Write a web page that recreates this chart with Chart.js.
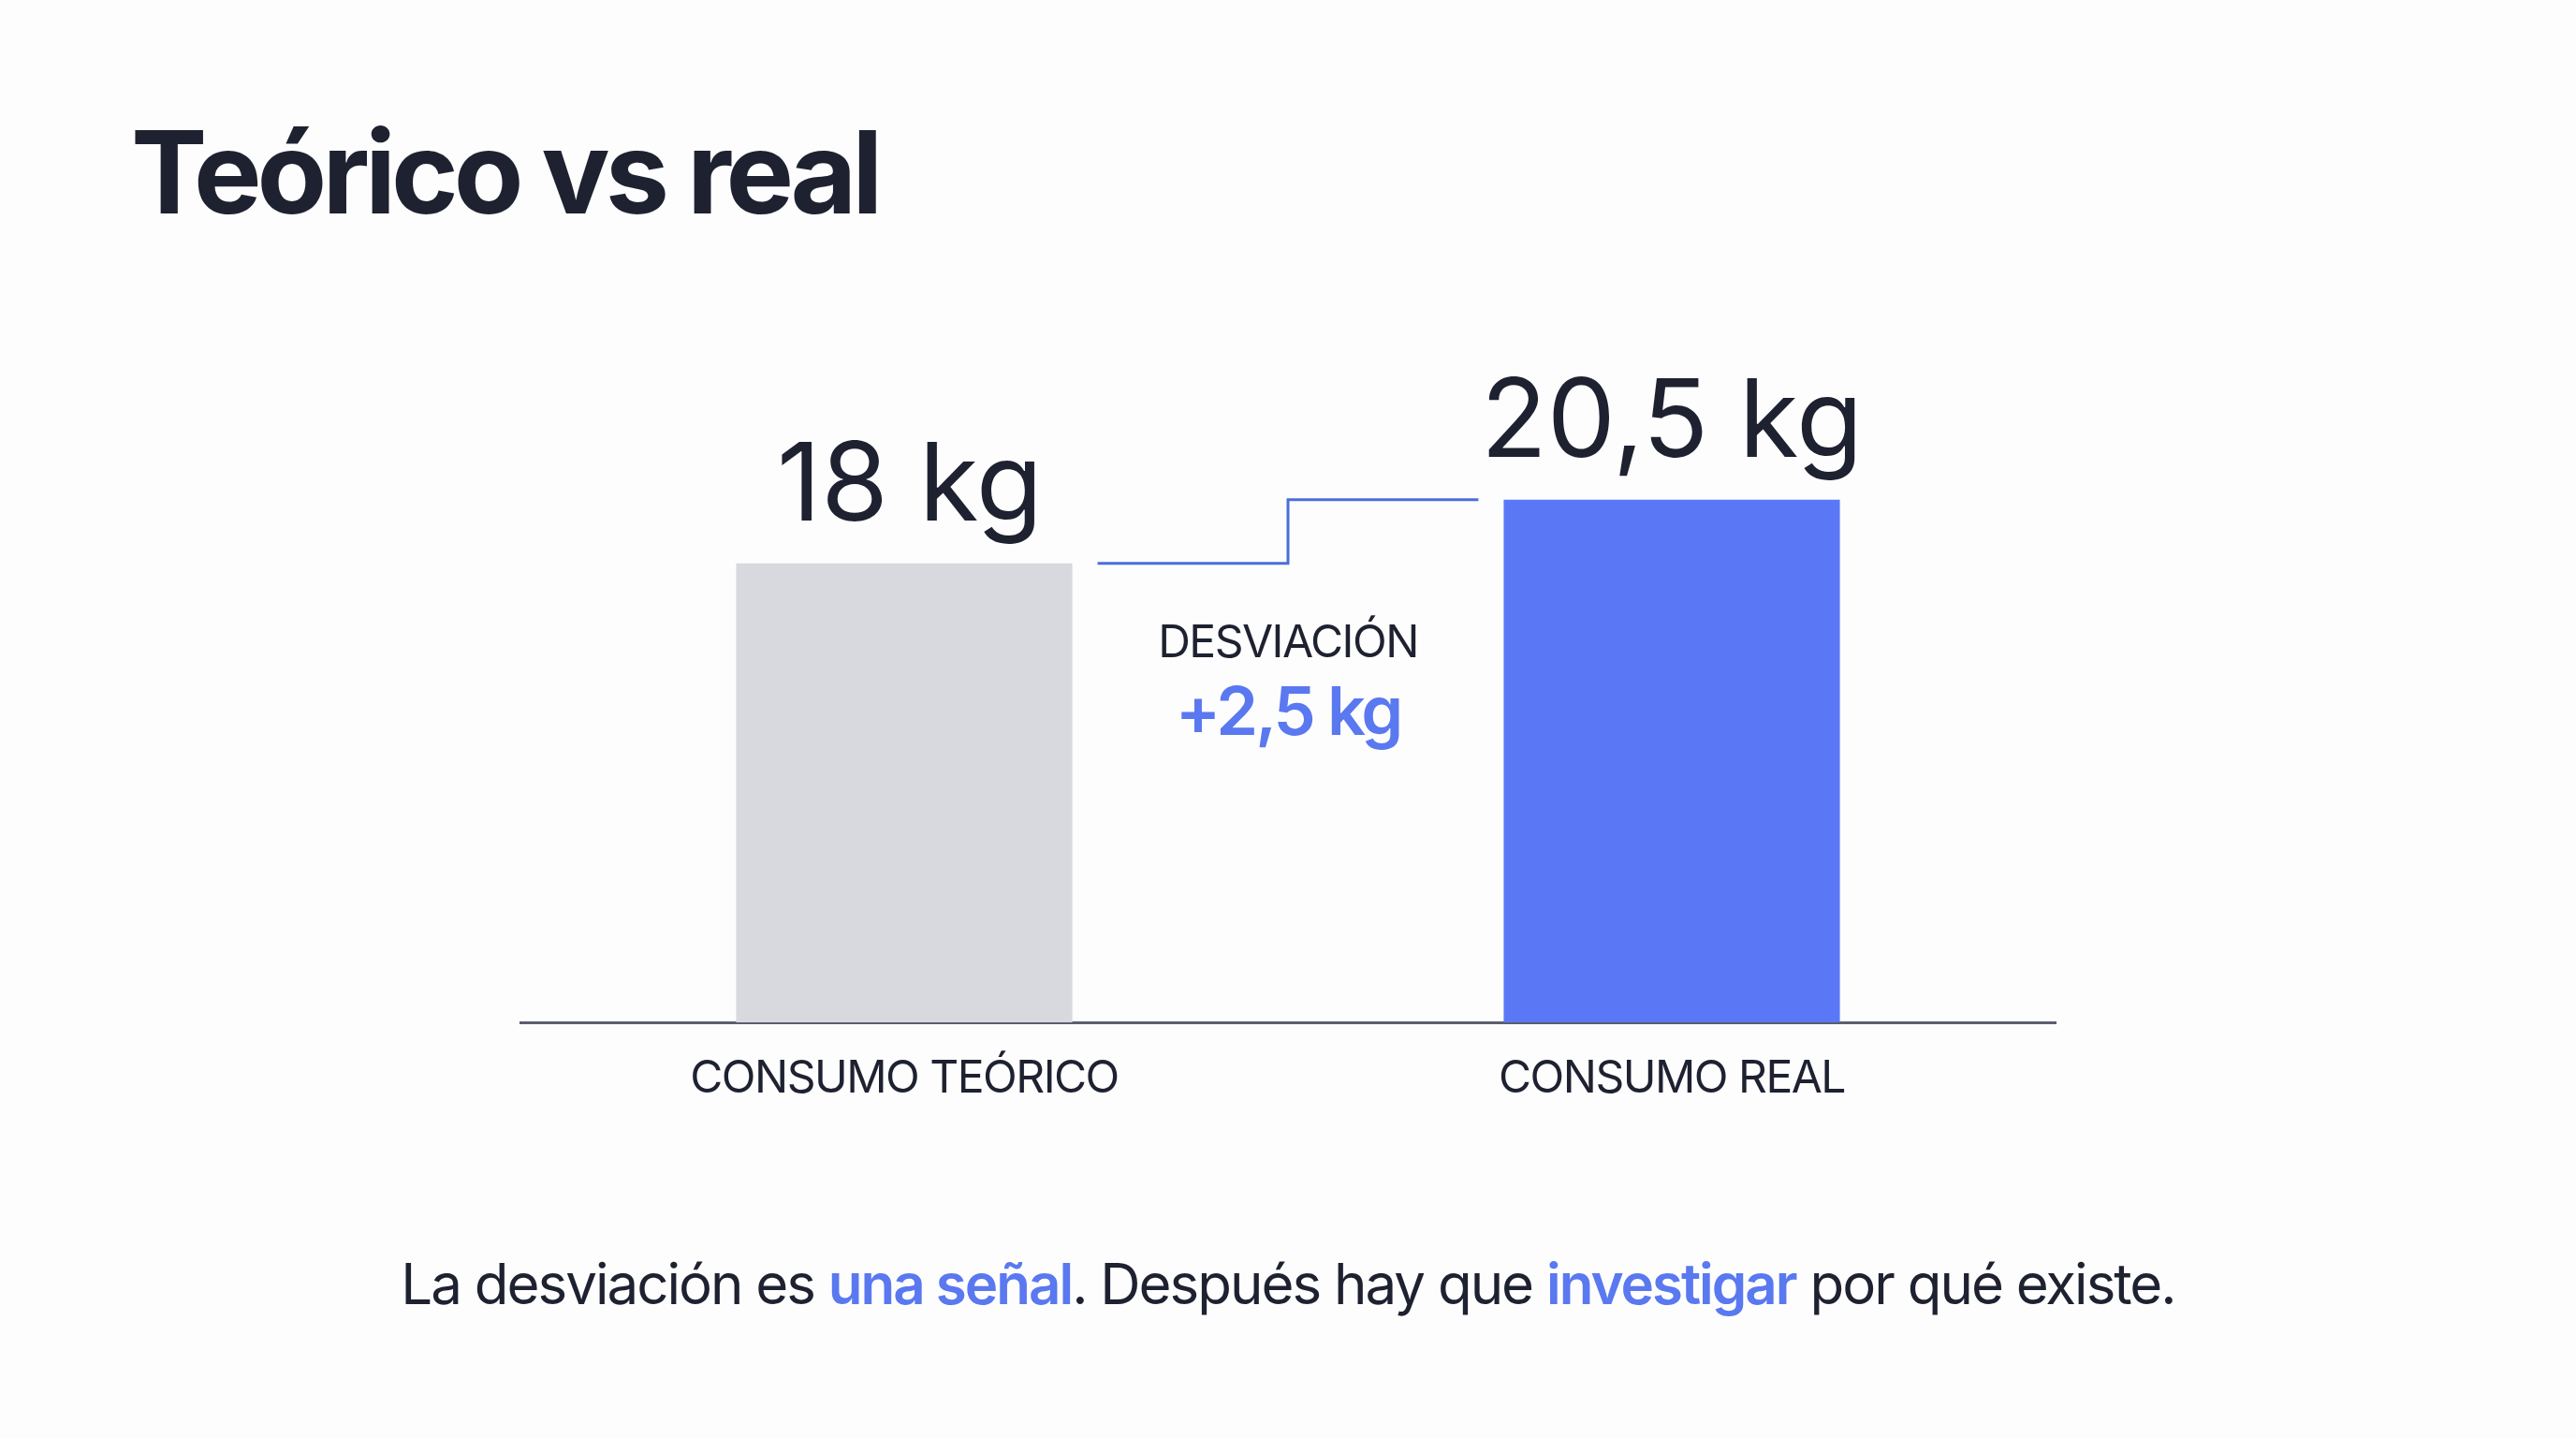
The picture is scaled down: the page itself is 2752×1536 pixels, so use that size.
<!DOCTYPE html>
<html>
<head>
<meta charset="utf-8">
<script src="https://cdn.jsdelivr.net/npm/chart.js@4.4.0/dist/chart.umd.min.js"></script>
<style>
  html, body { margin: 0; padding: 0; background: #fdfdfd; }
  #wrap { position: relative; width: 2752px; height: 1536px; }
</style>
</head>
<body>
<div id="wrap"><canvas id="chart"></canvas></div>
<script>
// Data
const categories = ["CONSUMO TEÓRICO", "CONSUMO REAL"];
const values = [18, 20.5];
const valueLabels = ["18 kg", "20,5 kg"];
const barColors = ["#d8d9de", "#5a78f6"];
const deviationLabel = "DESVIACIÓN";
const deviationValue = "+2,5 kg";
const titleText = "Teórico vs real";
// [text, highlighted]
const captionParts = [
    ["La desviación es ", false],
    ["una señal", true],
    [". Después hay que ", false],
    ["investigar", true],
    [" por qué existe.", false]
];

const DARK = "#1e2130";
const BLUE = "#5a78f0";
const FONT = "Inter, 'Noto Sans', sans-serif";

// Draws the title, value labels, category labels, connector and caption
const overlay = {
    id: "overlay",
    afterDraw(chart) {
        const ctx = chart.ctx;
        const area = chart.chartArea;
        const bars = chart.getDatasetMeta(0).data;
        ctx.save();
        ctx.textBaseline = "alphabetic";

        // title
        ctx.fillStyle = DARK;
        ctx.textAlign = "left";
        ctx.letterSpacing = "-5px";
        ctx.font = "700 122px " + FONT;
        ctx.fillText(titleText, 140, 228);

        // value labels and category labels
        ctx.textAlign = "center";
        bars.forEach(function (bar, i) {
            ctx.fillStyle = DARK;
            ctx.letterSpacing = "0px";
            ctx.font = "400 116px " + FONT;
            ctx.fillText(valueLabels[i], bar.x + (i === 0 ? 6 : 0), bar.y - 46);
            ctx.letterSpacing = "-1.5px";
            ctx.font = "400 48px " + FONT;
            ctx.fillText(categories[i], bar.x, area.bottom + 75);
        });

        // step connector between bar tops
        const b0 = bars[0], b1 = bars[1];
        const xStart = b0.x + b0.width / 2 + 27;
        const xEnd = b1.x - b1.width / 2 - 27;
        const xMid = (b0.x + b0.width / 2 + b1.x - b1.width / 2) / 2;
        ctx.strokeStyle = "#4a6fd8";
        ctx.lineWidth = 3;
        ctx.beginPath();
        ctx.moveTo(xStart, b0.y);
        ctx.lineTo(xMid, b0.y);
        ctx.lineTo(xMid, b1.y);
        ctx.lineTo(xEnd, b1.y);
        ctx.stroke();

        // deviation annotation
        ctx.fillStyle = DARK;
        ctx.letterSpacing = "-1.5px";
        ctx.font = "400 48px " + FONT;
        ctx.fillText(deviationLabel, xMid, area.bottom - 390);
        ctx.fillStyle = BLUE;
        ctx.letterSpacing = "-3px";
        ctx.font = "600 72px " + FONT;
        ctx.fillText(deviationValue, xMid, area.bottom - 307);

        // caption with highlighted words
        const regular = "400 60px " + FONT;
        const bold = "600 60px " + FONT;
        ctx.letterSpacing = "-2px";
        let total = 0;
        captionParts.forEach(function (p) {
            ctx.font = p[1] ? bold : regular;
            total += ctx.measureText(p[0]).width;
        });
        let x = 1376 - total / 2;
        ctx.textAlign = "left";
        captionParts.forEach(function (p) {
            ctx.font = p[1] ? bold : regular;
            ctx.fillStyle = p[1] ? BLUE : DARK;
            ctx.fillText(p[0], x, 1393);
            x += ctx.measureText(p[0]).width;
        });
        ctx.restore();
    }
};

new Chart(document.getElementById("chart"), {
    type: "bar",
    data: {
        labels: categories,
        datasets: [{
            data: values,
            backgroundColor: barColors,
            borderWidth: 0,
            categoryPercentage: 1,
            barPercentage: 0.438
        }]
    },
    options: {
        responsive: true,
        maintainAspectRatio: false,
        animation: false,
        layout: { padding: { left: 556, right: 556, top: 275, bottom: 444 } },
        plugins: {
            legend: { display: false },
            tooltip: { enabled: false }
        },
        scales: {
            x: {
                grid: { display: false, drawTicks: false },
                border: { display: true, color: "#5b5f6e", width: 3 },
                ticks: { display: false }
            },
            y: {
                display: false,
                min: 0,
                max: 30
            }
        }
    },
    plugins: [overlay]
});
</script>
</body>
</html>
